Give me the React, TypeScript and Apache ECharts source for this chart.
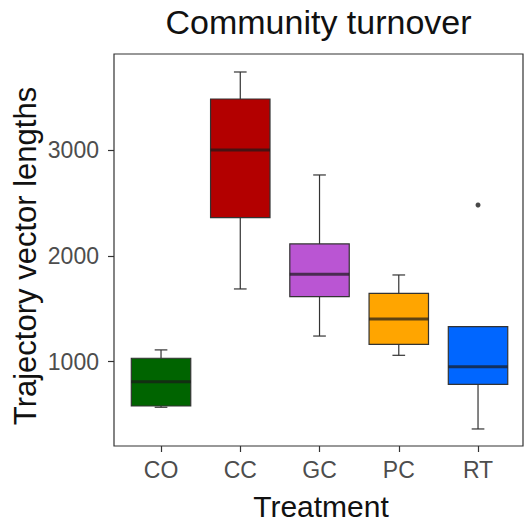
import React, { useEffect, useRef } from "react";
import * as echarts from "echarts";

const categories = ["CO", "CC", "GC", "PC", "RT"];
const whiskerLow = [569, 1687, 1242, 1060, 364];
const q1 = [581, 2360, 1614, 1164, 786];
const medians = [811, 3000, 1826, 1403, 953];
const q3 = [1032, 3482, 2112, 1646, 1331];
const whiskerHigh = [1111, 3737, 2764, 1819, 1331];
const outlierCats = ["RT"];
const outlierValues = [2480];
const fillColors = ["#006400", "#B30000", "#BA55D3", "#FFA500", "#0066FF"];
const yTicks = [1000, 2000, 3000];

const FONT = "'Liberation Sans', Arial, sans-serif";

export default function App() {
  const ref = useRef<HTMLDivElement>(null);

  useEffect(() => {
    if (!ref.current) return;
    const chart = echarts.init(ref.current, null, { renderer: "svg" });

    const boxData = categories.map((_, i) => [
      i,
      whiskerLow[i],
      q1[i],
      medians[i],
      q3[i],
      whiskerHigh[i],
    ]);

    const option: any = {
      animation: false,
      backgroundColor: "#ffffff",
      grid: {
        left: 121.4,
        width: 396.25,
        top: 54,
        height: 392,
        containLabel: false,
        outerBoundsMode: "none",
      },
      xAxis: {
        type: "category",
        data: categories,
        boundaryGap: true,
        axisLine: { show: false },
        axisTick: {
          show: true,
          alignWithLabel: true,
          length: 6,
          lineStyle: { color: "#333333", width: 1.2 },
        },
        axisLabel: {
          color: "#4d4d4d",
          fontSize: 23,
          fontFamily: FONT,
          margin: 12,
        },
        splitLine: { show: false },
      },
      yAxis: {
        type: "value",
        min: 203,
        max: 3907,
        offset: 7.4,
        axisLine: { show: false },
        axisTick: {
          show: true,
          length: 6,
          customValues: yTicks,
          lineStyle: { color: "#333333", width: 1.2 },
        },
        axisLabel: {
          color: "#4d4d4d",
          fontSize: 23,
          fontFamily: FONT,
          margin: 15,
          customValues: yTicks,
          formatter: (v: number) => String(v),
        },
        splitLine: { show: false },
      },
      graphic: [
        {
          type: "rect",
          shape: { x: 114, y: 54, width: 409, height: 392 },
          style: { fill: "none", stroke: "#333333", lineWidth: 1.2 },
          z: 10,
        },
        {
          type: "text",
          x: 318.5,
          y: 22,
          style: {
            text: "Community turnover",
            fontSize: 34,
            fontFamily: FONT,
            fill: "#111111",
            align: "center",
            verticalAlign: "middle",
          },
        },
        {
          type: "text",
          x: 321,
          y: 506,
          style: {
            text: "Treatment",
            fontSize: 30,
            fontFamily: FONT,
            fill: "#111111",
            align: "center",
            verticalAlign: "middle",
          },
        },
        {
          type: "text",
          x: 25,
          y: 256,
          rotation: Math.PI / 2,
          style: {
            text: "Trajectory vector lengths",
            fontSize: 31,
            fontFamily: FONT,
            fill: "#111111",
            align: "center",
            verticalAlign: "middle",
          },
        },
      ],
      series: [
        {
          type: "custom",
          data: boxData,
          encode: { x: 0, y: [1, 2, 3, 4, 5] },
          renderItem: (params: any, api: any) => {
            const idx = api.value(0);
            const band = api.size([1, 0])[0];
            const bw = band * 0.75;
            const cw = band * 0.16;
            const pLo = api.coord([idx, api.value(1)]);
            const pQ1 = api.coord([idx, api.value(2)]);
            const pMed = api.coord([idx, api.value(3)]);
            const pQ3 = api.coord([idx, api.value(4)]);
            const pHi = api.coord([idx, api.value(5)]);
            const x = pMed[0];
            const lineStyle = { stroke: "#333333", lineWidth: 1.2 };
            return {
              type: "group",
              children: [
                {
                  type: "line",
                  shape: { x1: x, y1: pHi[1], x2: x, y2: pQ3[1] },
                  style: lineStyle,
                },
                {
                  type: "line",
                  shape: { x1: x, y1: pQ1[1], x2: x, y2: pLo[1] },
                  style: lineStyle,
                },
                {
                  type: "line",
                  shape: { x1: x - cw / 2, y1: pHi[1], x2: x + cw / 2, y2: pHi[1] },
                  style: lineStyle,
                },
                {
                  type: "line",
                  shape: { x1: x - cw / 2, y1: pLo[1], x2: x + cw / 2, y2: pLo[1] },
                  style: lineStyle,
                },
                {
                  type: "rect",
                  shape: { x: x - bw / 2, y: pQ3[1], width: bw, height: pQ1[1] - pQ3[1] },
                  style: { fill: fillColors[params.dataIndex], stroke: "#333333", lineWidth: 1.2 },
                },
                {
                  type: "line",
                  shape: { x1: x - bw / 2, y1: pMed[1], x2: x + bw / 2, y2: pMed[1] },
                  style: { stroke: "rgba(25,25,25,0.7)", lineWidth: 3 },
                },
              ],
            };
          },
        },
        {
          type: "scatter",
          data: outlierCats.map((c, i) => [c, outlierValues[i]]),
          symbol: "circle",
          symbolSize: 5,
          itemStyle: { color: "#1a1a1a" },
        },
      ],
    };

    chart.setOption(option);
    return () => chart.dispose();
  }, []);

  return (
    <div
      ref={ref}
      style={{ position: "fixed", left: 0, top: 0, width: 528, height: 523 }}
    />
  );
}
